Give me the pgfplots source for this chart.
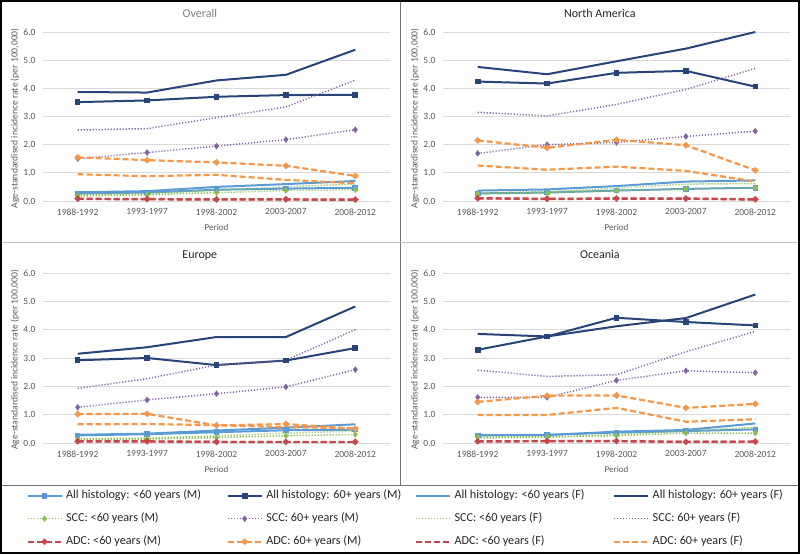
\documentclass[border=0pt]{standalone}
\usepackage{pgfplots}
\pgfplotsset{compat=1.18}
\usepackage{pgfplotstable}
\usepackage{fontspec}
\setmainfont{Carlito}
\definecolor{lblue}{HTML}{5B9BD5}
\definecolor{navy}{HTML}{264478}
\definecolor{lgreen}{HTML}{8CBF4F}
\definecolor{purp}{HTML}{8064A2}
\definecolor{red2}{HTML}{C8474A}
\definecolor{orng}{HTML}{F79646}
\definecolor{gridc}{HTML}{D9D9D9}
\definecolor{txtc}{HTML}{595959}

\pgfplotstableread{
x aLM aOM aLF aOF sLM sOM sLF sOF dLM dOM dLF dOF
0 0.27 3.51 0.31 3.87 0.18 1.50 0.22 2.52 0.08 1.55 0.07 0.95
1 0.30 3.57 0.35 3.85 0.22 1.72 0.26 2.57 0.07 1.45 0.06 0.88
2 0.40 3.70 0.50 4.28 0.30 1.95 0.38 2.96 0.06 1.37 0.05 0.93
3 0.44 3.76 0.60 4.48 0.37 2.18 0.50 3.34 0.06 1.25 0.05 0.75
4 0.47 3.77 0.71 5.37 0.40 2.53 0.60 4.29 0.05 0.89 0.04 0.63
}\overall
\pgfplotstableread{
x aLM aOM aLF aOF sLM sOM sLF sOF dLM dOM dLF dOF
0 0.27 4.24 0.37 4.76 0.25 1.69 0.28 3.15 0.10 2.15 0.09 1.26
1 0.30 4.17 0.41 4.50 0.29 2.00 0.33 3.02 0.08 1.89 0.07 1.11
2 0.37 4.55 0.53 4.96 0.37 2.08 0.45 3.43 0.09 2.17 0.08 1.22
3 0.43 4.62 0.69 5.41 0.43 2.29 0.60 3.96 0.09 1.98 0.08 1.07
4 0.47 4.06 0.73 6.00 0.47 2.48 0.62 4.71 0.06 1.09 0.05 0.69
}\namerica
\pgfplotstableread{
x aLM aOM aLF aOF sLM sOM sLF sOF dLM dOM dLF dOF
0 0.27 2.92 0.29 3.15 0.12 1.26 0.15 1.93 0.06 1.02 0.05 0.66
1 0.31 3.00 0.33 3.38 0.14 1.52 0.17 2.27 0.06 1.03 0.05 0.67
2 0.38 2.75 0.44 3.74 0.19 1.74 0.25 2.75 0.04 0.62 0.04 0.63
3 0.45 2.91 0.54 3.74 0.26 1.98 0.35 2.92 0.04 0.67 0.03 0.56
4 0.47 3.35 0.66 4.82 0.30 2.59 0.42 4.00 0.04 0.50 0.03 0.52
}\europe
\pgfplotstableread{
x aLM aOM aLF aOF sLM sOM sLF sOF dLM dOM dLF dOF
0 0.27 3.29 0.28 3.85 0.21 1.61 0.18 2.57 0.06 1.45 0.05 0.99
1 0.29 3.76 0.28 3.76 0.22 1.61 0.20 2.35 0.07 1.67 0.06 0.99
2 0.37 4.42 0.40 4.12 0.26 2.21 0.30 2.41 0.07 1.68 0.06 1.24
3 0.42 4.27 0.46 4.41 0.35 2.55 0.42 3.22 0.04 1.24 0.04 0.75
4 0.48 4.15 0.69 5.24 0.35 2.48 0.55 3.94 0.05 1.38 0.05 0.84
}\oceania

\pgfplotsset{
  aLM/.style={lblue, line width=2pt, mark=square*, mark size=1.8pt, mark options={solid}},
  aOM/.style={navy, line width=2pt, mark=square*, mark size=1.8pt, mark options={solid}},
  aLF/.style={lblue, line width=2pt, no markers},
  aOF/.style={navy, line width=2pt, no markers},
  sLM/.style={lgreen, line width=1.5pt, dash pattern=on 1.1pt off 1.9pt, mark=diamond*, mark size=2.1pt, mark options={solid}},
  sOM/.style={purp, line width=1.5pt, dash pattern=on 1.1pt off 1.9pt, mark=diamond*, mark size=2.1pt, mark options={solid}},
  sLF/.style={lgreen, line width=1.5pt, dash pattern=on 1.1pt off 1.9pt, no markers},
  sOF/.style={purp, line width=1.5pt, dash pattern=on 1.1pt off 1.9pt, no markers},
  dLM/.style={red2, line width=2.2pt, dash pattern=on 6pt off 3pt, mark=*, mark size=1.9pt, mark options={solid}},
  dOM/.style={orng, line width=2.2pt, dash pattern=on 6pt off 3pt, mark=*, mark size=1.9pt, mark options={solid}},
  dLF/.style={red2, line width=2.2pt, dash pattern=on 6pt off 3pt, no markers},
  dOF/.style={orng, line width=2.2pt, dash pattern=on 6pt off 3pt, no markers},
  panel/.style={
    scale only axis, width=347pt, height=#1,
    xmin=-0.5, xmax=4.5, ymin=0, ymax=6,
    xtick={0,1,2,3,4}, xticklabels={1988-1992,1993-1997,1998-2002,2003-2007,2008-2012},
    ytick={0,1,2,3,4,5,6}, yticklabels={0.0,1.0,2.0,3.0,4.0,5.0,6.0},
    axis line style={draw=none}, major tick length=0pt,
    ymajorgrids, grid style={gridc, line width=0.8pt},
    tick label style={font=\fontsize{9.5}{11}\selectfont, text=txtc},
    xticklabel style={yshift=-4pt},
    yticklabel style={xshift=-4pt},
    xlabel={Period}, ylabel={Age-standardised incidence rate (per 100,000)},
    xlabel style={font=\fontsize{9}{10}\selectfont, text=txtc, at={(axis description cs:0.5,-0.154)}, anchor=center},
    ylabel style={font=\fontsize{9.6}{11}\selectfont, text=txtc, at={(axis description cs:-0.0807,0.49)}, anchor=center},
    every axis title shift=0pt,
    title style={font=\fontsize{12}{14}\selectfont, text=txtc, at={(axis description cs:0.452,1.083)}, anchor=base},
    clip=false,
  },
}
\newcommand\panelplots[1]{%
  \addplot[aLM] table[x=x,y=aLM]{#1};
  \addplot[aOM] table[x=x,y=aOM]{#1};
  \addplot[aLF] table[x=x,y=aLF]{#1};
  \addplot[aOF] table[x=x,y=aOF]{#1};
  \addplot[sLM] table[x=x,y=sLM]{#1};
  \addplot[sOM] table[x=x,y=sOM]{#1};
  \addplot[sLF] table[x=x,y=sLF]{#1};
  \addplot[sOF] table[x=x,y=sOF]{#1};
  \addplot[dLM] table[x=x,y=dLM]{#1};
  \addplot[dOM] table[x=x,y=dOM]{#1};
  \addplot[dLF] table[x=x,y=dLF]{#1};
  \addplot[dOF] table[x=x,y=dOF]{#1};
}

\begin{document}
\begin{tikzpicture}[x=1pt,y=1pt]
\useasboundingbox (0,0) rectangle (800,554);

\begin{axis}[panel=169pt, at={(43pt,353pt)}, anchor=south west, title={\color{black!50}Overall}]
\panelplots{\overall}
\end{axis}

\begin{axis}[panel=169pt, at={(443pt,353pt)}, anchor=south west, title={\color{black!85}North America}]
\panelplots{\namerica}
\end{axis}

\begin{axis}[panel=170pt, at={(43pt,111pt)}, anchor=south west, title={\color{black!85}Europe}]
\panelplots{\europe}
\end{axis}

\begin{axis}[panel=170pt, at={(443pt,111pt)}, anchor=south west, title={\color{black!85}Oceania}]
\panelplots{\oceania}
\end{axis}

\begin{axis}[at={(0pt,0pt)}, anchor=south west, scale only axis, width=800pt, height=69pt,
  hide axis, xmin=0, xmax=1, ymin=0, ymax=1,
  legend columns=4, legend cell align=left,
  legend style={at={(0.029,0.985)}, anchor=north west, draw=none, fill=none,
    font=\fontsize{12.2}{14}\selectfont, text=black!85, column sep=2pt, row sep=8pt,
    nodes={inner sep=1.5pt, text height=9pt, text depth=3pt}},
  legend image code/.code={\draw[mark repeat=2,mark phase=2] plot coordinates {(0pt,0pt) (17pt,0pt) (34pt,0pt)};},
]
\addlegendimage{aLM}\addlegendentry{\makebox[157pt][l]{All histology: <60 years (M)}}
\addlegendimage{aOM}\addlegendentry{\makebox[145pt][l]{All histology: 60+ years (M)}}
\addlegendimage{aLF}\addlegendentry{\makebox[155pt][l]{All histology: <60 years (F)}}
\addlegendimage{aOF}\addlegendentry{\makebox[130pt][l]{All histology: 60+ years (F)}}
\addlegendimage{sLM}\addlegendentry{SCC: <60 years (M)}
\addlegendimage{sOM}\addlegendentry{SCC: 60+ years (M)}
\addlegendimage{sLF}\addlegendentry{SCC: <60 years (F)}
\addlegendimage{sOF}\addlegendentry{SCC: 60+ years (F)}
\addlegendimage{dLM}\addlegendentry{ADC: <60 years (M)}
\addlegendimage{dOM}\addlegendentry{ADC: 60+ years (M)}
\addlegendimage{dLF}\addlegendentry{ADC: <60 years (F)}
\addlegendimage{dOF}\addlegendentry{ADC: 60+ years (F)}
\end{axis}

\draw[black!55, line width=0.8pt] (400,69) -- (400,554);
\draw[black!25, line width=0.8pt] (0,312) -- (800,312);
\draw[black!55, line width=0.8pt] (0,69) -- (800,69);
\draw[black, line width=2pt] (1,1) rectangle (799,553);
\end{tikzpicture}
\end{document}
